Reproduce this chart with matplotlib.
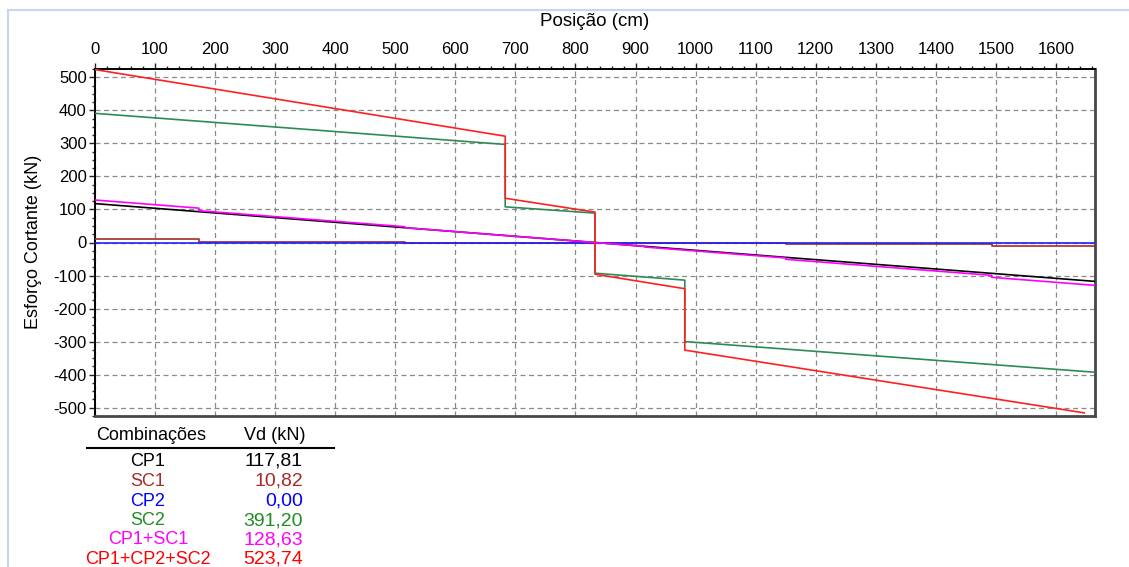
import matplotlib
matplotlib.use("Agg")
import matplotlib.pyplot as plt
from matplotlib.lines import Line2D

# ---------------- data ----------------
x_max = 1665

pos_cp1 = [0, 1665]
v_cp1 = [117.81, -117.81]

pos_sc1 = [0, 173, 173, 516, 516, 915, 915, 1150, 1150, 1493, 1493, 1665]
v_sc1 = [10.82, 10.82, 3.0, 3.0, 0.0, 0.0, -2.0, -2.0, -6.0, -6.0, -12.0, -12.0]

pos_cp2 = [0, 1665]
v_cp2 = [0.0, 0.0]

pos_sc2 = [0, 683, 683, 832.5, 832.5, 982, 982, 1665]
v_sc2 = [391.2, 297, 108, 89, -93, -114, -300, -393]

pos_cp1sc1 = [0, 173, 173, 516, 516, 915, 915, 1150, 1150, 1493, 1493, 1665]
v_cp1sc1 = [128.63, 104.1, 96.3, 47.8, 44.8, -11.7, -13.7, -46.9, -50.9, -99.5, -105.5, -129.8]

pos_full = [0, 683, 683, 832.5, 832.5, 982, 982, 1647]
v_full = [523.74, 322, 134, 92, -96, -140, -326, -516]

comb_names = ["CP1", "SC1", "CP2", "SC2", "CP1+SC1", "CP1+CP2+SC2"]
comb_vd = ["117,81", "10,82", "0,00", "391,20", "128,63", "523,74"]
text_colors = ["#000000", "#a52a2a", "#0000ff", "#228b22", "#ff00ff", "#ff0000"]

x_ticks = list(range(0, 1700, 100))
y_ticks = list(range(-500, 600, 100))

# ---------------- figure ----------------
W, H = 1129, 567
fig = plt.figure(figsize=(W / 100, H / 100), dpi=100)
fig.patch.set_facecolor("white")

def fx(px):
    return px / W

def fy(py):
    return 1 - py / H

# window border
fig.add_artist(Line2D([fx(8), fx(1129)], [fy(10), fy(10)], color="#c5d7ee", lw=1.5))
fig.add_artist(Line2D([fx(8), fx(8)], [fy(10), fy(567)], color="#c5d7ee", lw=1.5))

L, R, T, B = 95, 1095, 69, 416
ax = fig.add_axes([fx(L), fy(B), (R - L) / W, (B - T) / H])

FONT = ["Liberation Sans", "DejaVu Sans"]

lw = 1.2
ax.plot(pos_cp1, v_cp1, color="black", lw=lw, zorder=3)
ax.plot(pos_sc1, v_sc1, color="#a52a2a", lw=lw, zorder=3.1)
ax.plot(pos_cp2, v_cp2, color="#2020ff", lw=lw, zorder=3.2)
ax.plot(pos_sc2, v_sc2, color="#2e8b57", lw=lw, zorder=3.3)
ax.plot(pos_cp1sc1, v_cp1sc1, color="#ff00ff", lw=lw, zorder=3.4)
ax.plot(pos_full, v_full, color="#ff2020", lw=lw, zorder=3.5)

ax.set_xlim(0, x_max)
ax.set_ylim(-525.5, 525.5)

ax.xaxis.tick_top()
ax.set_xticks(x_ticks)
ax.set_yticks(y_ticks)
ax.set_xticks(list(range(0, 1680, 20)), minor=True)
ax.set_yticks(list(range(-525, 550, 25)), minor=True)
ax.set_xticklabels([str(v) for v in x_ticks], fontsize=12, family=FONT)
ax.set_yticklabels([str(v) for v in y_ticks], fontsize=12, family=FONT)
ax.tick_params(which="major", direction="out", length=4.5, width=1.0, color="#222222")
ax.tick_params(which="minor", direction="out", length=2.5, width=1.0, color="#222222")
ax.tick_params(axis="x", which="both", top=True, bottom=False)
ax.tick_params(axis="y", which="both", left=True, right=False)
ax.tick_params(axis="x", which="major", pad=4)
ax.tick_params(axis="y", which="major", pad=1.5)

ax.grid(True, which="major", color="#8a8a8a", lw=0.9, linestyle=(0, (4, 2.8)), zorder=1)
ax.set_axisbelow(True)

ax.spines["top"].set_color("black")
ax.spines["left"].set_color("black")
ax.spines["top"].set_linewidth(1.4)
ax.spines["left"].set_linewidth(1.4)
ax.spines["right"].set_color("#484848")
ax.spines["bottom"].set_color("#484848")
ax.spines["right"].set_linewidth(2.0)
ax.spines["bottom"].set_linewidth(2.0)

fig.text(fx(595), fy(22), "Posição (cm)", ha="center", va="center", fontsize=13.5, family=FONT)
fig.text(fx(34), fy(242), "Esforço Cortante (kN)", ha="center", va="center",
         rotation=90, fontsize=13, family=FONT)

# ---------------- table ----------------
fig.text(fx(151), fy(435), "Combinações", ha="center", va="center", fontsize=13, family=FONT)
fig.text(fx(306), fy(435), "Vd (kN)", ha="right", va="center", fontsize=13, family=FONT)
fig.add_artist(Line2D([fx(87), fx(334)], [fy(447.5), fy(447.5)], color="black", lw=1.5))

row_y = [461, 481, 501, 520.5, 540, 559.5]
for name, vd, col, yy in zip(comb_names, comb_vd, text_colors, row_y):
    fig.text(fx(148), fy(yy), name, ha="center", va="center", fontsize=13, family=FONT, color=col)
    fig.text(fx(303), fy(yy), vd, ha="right", va="center", fontsize=14, family=FONT, color=col)

fig.savefig("out.png", dpi=100, facecolor="white")
